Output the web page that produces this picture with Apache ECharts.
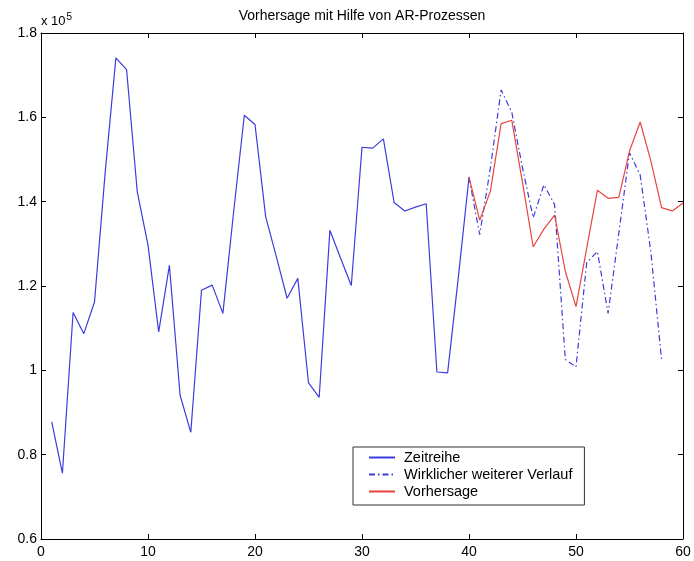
<!DOCTYPE html>
<html>
<head>
<meta charset="utf-8">
<script src="https://cdn.jsdelivr.net/npm/echarts@6/dist/echarts.min.js"></script>
<style>
html, body { margin: 0; padding: 0; background: #fff; }
#chart { width: 694px; height: 561px; }
</style>
</head>
<body>
<div id="chart"></div>
<script>
// Werte in Einheiten von 10^5
var zeitreihe = [0.878, 0.756, 1.137, 1.087, 1.162, 1.47, 1.741, 1.713, 1.423, 1.297,
    1.091, 1.249, 0.941, 0.853, 1.19, 1.202, 1.135, 1.375, 1.605, 1.583,
    1.364, 1.269, 1.171, 1.218, 0.970, 0.936, 1.332, 1.266, 1.201, 1.529,
    1.527, 1.549, 1.398, 1.378, 1.387, 1.395, 0.996, 0.994, 1.22, 1.458];
var zeitreiheStart = 1;

var wirklich = [1.458, 1.322, 1.48, 1.665, 1.612, 1.48, 1.362, 1.440, 1.393, 1.026,
    1.008, 1.255, 1.282, 1.135, 1.325, 1.516, 1.463, 1.28, 1.024];
var wirklichStart = 40;

var vorhersage = [1.458, 1.356, 1.425, 1.585, 1.593, 1.445, 1.293, 1.335, 1.368, 1.235,
    1.151, 1.29, 1.427, 1.408, 1.41, 1.52, 1.589, 1.496, 1.386, 1.378, 1.397];
var vorhersageStart = 40;

var xTicks = [0, 10, 20, 30, 40, 50, 60];
var yTicks = [0.6, 0.8, 1.0, 1.2, 1.4, 1.6, 1.8];

function pairs(values, start) {
    return values.map(function (v, i) { return [start + i, v]; });
}

var font = 'Liberation Sans, Arial, sans-serif';
var blau = '#3c3cdc';
var rot = '#e8453c';

var chart = echarts.init(document.getElementById('chart'));

function xAx(pos, labels) {
    return {
        type: 'value', position: pos,
        min: xTicks[0], max: xTicks[xTicks.length - 1], interval: 10,
        axisLine: { show: true, onZero: false, lineStyle: { color: '#000', width: 1 } },
        axisTick: { show: true, inside: true, length: 5, lineStyle: { color: '#000' } },
        axisLabel: { show: labels, color: '#000', fontSize: 14, fontFamily: font, margin: 6 },
        splitLine: { show: false }
    };
}
function yAx(pos, labels) {
    return {
        type: 'value', position: pos,
        min: yTicks[0], max: yTicks[yTicks.length - 1], interval: 0.2,
        axisLine: { show: true, onZero: false, lineStyle: { color: '#000', width: 1 } },
        axisTick: { show: true, inside: true, length: 5, lineStyle: { color: '#000' } },
        axisLabel: {
            show: labels, color: '#000', fontSize: 14, fontFamily: font, margin: 4,
            formatter: function (v) { return String(+v.toFixed(1)); }
        },
        splitLine: { show: false }
    };
}

option = {
    animation: false,
    backgroundColor: '#fff',
    graphic: [{
        type: 'text', x: 362, y: 9,
        style: {
            text: 'Vorhersage mit Hilfe von AR-Prozessen', fill: '#000',
            font: '14px ' + font, textAlign: 'center'
        }
    }, {
        type: 'text', left: 41, top: 12,
        style: {
            text: 'x 10{s|5}', fill: '#000', font: '13px ' + font,
            rich: { s: { fontSize: 10, verticalAlign: 'top', padding: [0, 0, 9, 1] } }
        }
    }],
    legend: {
        orient: 'vertical',
        left: 353, top: 447,
        padding: [3, 12, 6, 15],
        itemGap: 2,
        itemWidth: 26, itemHeight: 14,
        borderColor: '#333', borderWidth: 1,
        backgroundColor: '#fff',
        itemStyle: { opacity: 0 },
        textStyle: { fontSize: 14.5, lineHeight: 14, color: '#000', fontFamily: font, padding: [0, 0, 0, 4] },
        data: ['Zeitreihe', 'Wirklicher weiterer Verlauf', 'Vorhersage']
    },
    grid: { left: 41, right: 11, top: 33, bottom: 22, containLabel: false },
    xAxis: [xAx('bottom', true), xAx('top', false)],
    yAxis: [yAx('left', true), yAx('right', false)],
    series: [{
        name: 'Zeitreihe',
        type: 'line',
        symbol: 'none',
        data: pairs(zeitreihe, zeitreiheStart),
        lineStyle: { color: blau, width: 1.2 },
        itemStyle: { color: blau }
    }, {
        name: 'Wirklicher weiterer Verlauf',
        type: 'line',
        symbol: 'none',
        data: pairs(wirklich, wirklichStart),
        lineStyle: { color: blau, width: 1.2, type: [6, 3, 1.5, 3] },
        itemStyle: { color: blau }
    }, {
        name: 'Vorhersage',
        type: 'line',
        symbol: 'none',
        data: pairs(vorhersage, vorhersageStart),
        lineStyle: { color: rot, width: 1.2 },
        itemStyle: { color: rot }
    }]
};
chart.setOption(option);
</script>
</body>
</html>
